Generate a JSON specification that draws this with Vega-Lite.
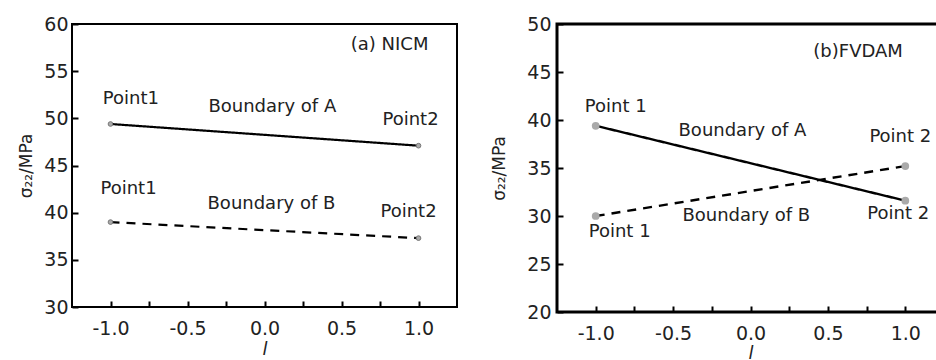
{
  "$schema": "https://vega.github.io/schema/vega-lite/v6.json",
  "padding": {"left": 16, "top": 13, "right": 0, "bottom": 0},
  "bounds": "flush",
  "spacing": 100,
  "background": "white",
  "config": {
    "font": "DejaVu Sans",
    "view": {"stroke": "black", "strokeWidth": 2},
    "axis": {
      "grid": false,
      "domain": false,
      "ticks": true,
      "tickColor": "black",
      "tickWidth": 2,
      "labelFont": "DejaVu Sans",
      "labelFontSize": 19,
      "labelColor": "#222",
      "titleFont": "DejaVu Sans",
      "titleFontWeight": "normal",
      "titleColor": "#222"
    }
  },
  "datasets": {
    "lines": [
      {"panel": "a", "series": "A", "l": -1, "s": 49.4},
      {"panel": "a", "series": "A", "l": 1, "s": 47.1},
      {"panel": "a", "series": "B", "l": -1, "s": 39.0},
      {"panel": "a", "series": "B", "l": 1, "s": 37.3},
      {"panel": "b", "series": "A", "l": -1, "s": 39.4},
      {"panel": "b", "series": "A", "l": 1, "s": 31.6},
      {"panel": "b", "series": "B", "l": -1, "s": 30.0},
      {"panel": "b", "series": "B", "l": 1, "s": 35.2}
    ],
    "notes": [
      {"panel": "a", "text": "(a) NICM", "l": 0.56, "s": 57.8},
      {"panel": "a", "text": "Point1", "l": -1.05, "s": 52.05},
      {"panel": "a", "text": "Boundary of A", "l": -0.364, "s": 51.2},
      {"panel": "a", "text": "Point2", "l": 0.766, "s": 49.8},
      {"panel": "a", "text": "Point1", "l": -1.065, "s": 42.5},
      {"panel": "a", "text": "Boundary of B", "l": -0.37, "s": 40.9},
      {"panel": "a", "text": "Point2", "l": 0.753, "s": 40.07},
      {"panel": "b", "text": "(b)FVDAM", "l": 0.406, "s": 47.1},
      {"panel": "b", "text": "Point 1", "l": -1.07, "s": 41.35},
      {"panel": "b", "text": "Boundary of A", "l": -0.465, "s": 38.85},
      {"panel": "b", "text": "Point 2", "l": 0.768, "s": 38.2},
      {"panel": "b", "text": "Point 1", "l": -1.045, "s": 28.33},
      {"panel": "b", "text": "Boundary of B", "l": -0.44, "s": 30.0},
      {"panel": "b", "text": "Point 2", "l": 0.755, "s": 30.2}
    ]
  },
  "hconcat": [
    {
      "width": 385,
      "height": 283,
      "layer": [
        {
          "data": {"name": "lines"},
          "transform": [{"filter": "datum.panel === 'a'"}],
          "mark": {"type": "line", "color": "black", "strokeWidth": 2.2},
          "encoding": {
            "x": {"field": "l", "type": "quantitative",
              "scale": {"domain": [-1.25, 1.25], "nice": false, "zero": false},
              "axis": {"values": [-1, -0.75, -0.5, -0.25, 0, 0.25, 0.5, 0.75, 1], "offset": -6, "tickSize": 6,
                "labelExpr": "datum.value % 0.5 === 0 ? replace(format(datum.value, '.1f'), '\u2212', '-') : ''",
                "labelPadding": 12, "title": "l", "titleFontStyle": "italic", "titleFontSize": 18, "titlePadding": 2}},
            "y": {"field": "s", "type": "quantitative",
              "scale": {"domain": [30, 60], "nice": false, "zero": false},
              "axis": {"values": [30, 32.5, 35, 37.5, 40, 42.5, 45, 47.5, 50, 52.5, 55, 57.5, 60], "offset": -6, "tickSize": 6,
                "labelExpr": "datum.value % 5 === 0 ? format(datum.value, 'd') : ''",
                "labelPadding": 4, "title": "σ₂₂/MPa", "titleFontSize": 17, "titlePadding": 8}},
            "strokeDash": {"field": "series", "type": "nominal",
              "scale": {"domain": ["A", "B"], "range": [[1, 0], [9, 7]]}, "legend": null},
            "detail": {"field": "series"}
          }
        },
        {
          "data": {"name": "lines"},
          "transform": [{"filter": "datum.panel === 'a'"}],
          "mark": {"type": "point", "shape": "circle", "size": 22, "filled": true, "color": "#aaa", "stroke": "#777", "strokeWidth": 1, "opacity": 1},
          "encoding": {
            "x": {"field": "l", "type": "quantitative"},
            "y": {"field": "s", "type": "quantitative"}
          }
        },
        {
          "data": {"name": "notes"},
          "transform": [{"filter": "datum.panel === 'a'"}],
          "mark": {"type": "text", "align": "left", "baseline": "middle", "fontSize": 18, "color": "#222"},
          "encoding": {
            "x": {"field": "l", "type": "quantitative"},
            "y": {"field": "s", "type": "quantitative"},
            "text": {"field": "text"}
          }
        }
      ]
    },
    {
      "width": 387,
      "height": 288,
      "view": {"stroke": "black", "strokeWidth": 3},
      "layer": [
        {
          "data": {"name": "lines"},
          "transform": [{"filter": "datum.panel === 'b'"}],
          "mark": {"type": "line", "color": "black", "strokeWidth": 2.4},
          "encoding": {
            "x": {"field": "l", "type": "quantitative",
              "scale": {"domain": [-1.25, 1.25], "nice": false, "zero": false},
              "axis": {"values": [-1, -0.75, -0.5, -0.25, 0, 0.25, 0.5, 0.75, 1], "offset": -6, "tickSize": 6,
                "labelExpr": "datum.value % 0.5 === 0 ? replace(format(datum.value, '.1f'), '\u2212', '-') : ''",
                "labelPadding": 12, "title": "l", "titleFontStyle": "italic", "titleFontSize": 18, "titlePadding": 1}},
            "y": {"field": "s", "type": "quantitative",
              "scale": {"domain": [20, 50], "nice": false, "zero": false},
              "axis": {"values": [20, 22.5, 25, 27.5, 30, 32.5, 35, 37.5, 40, 42.5, 45, 47.5, 50], "offset": -6, "tickSize": 6,
                "labelExpr": "datum.value % 5 === 0 ? format(datum.value, 'd') : ''",
                "labelPadding": 6, "title": "σ₂₂/MPa", "titleFontSize": 17, "titlePadding": 18}},
            "strokeDash": {"field": "series", "type": "nominal",
              "scale": {"domain": ["A", "B"], "range": [[1, 0], [10, 11]]}, "legend": null},
            "detail": {"field": "series"}
          }
        },
        {
          "data": {"name": "lines"},
          "transform": [{"filter": "datum.panel === 'b'"}],
          "mark": {"type": "point", "shape": "circle", "size": 60, "filled": true, "color": "#aaa", "opacity": 1},
          "encoding": {
            "x": {"field": "l", "type": "quantitative"},
            "y": {"field": "s", "type": "quantitative"}
          }
        },
        {
          "data": {"name": "notes"},
          "transform": [{"filter": "datum.panel === 'b'"}],
          "mark": {"type": "text", "align": "left", "baseline": "middle", "fontSize": 18, "color": "#222"},
          "encoding": {
            "x": {"field": "l", "type": "quantitative"},
            "y": {"field": "s", "type": "quantitative"},
            "text": {"field": "text"}
          }
        }
      ]
    }
  ]
}
